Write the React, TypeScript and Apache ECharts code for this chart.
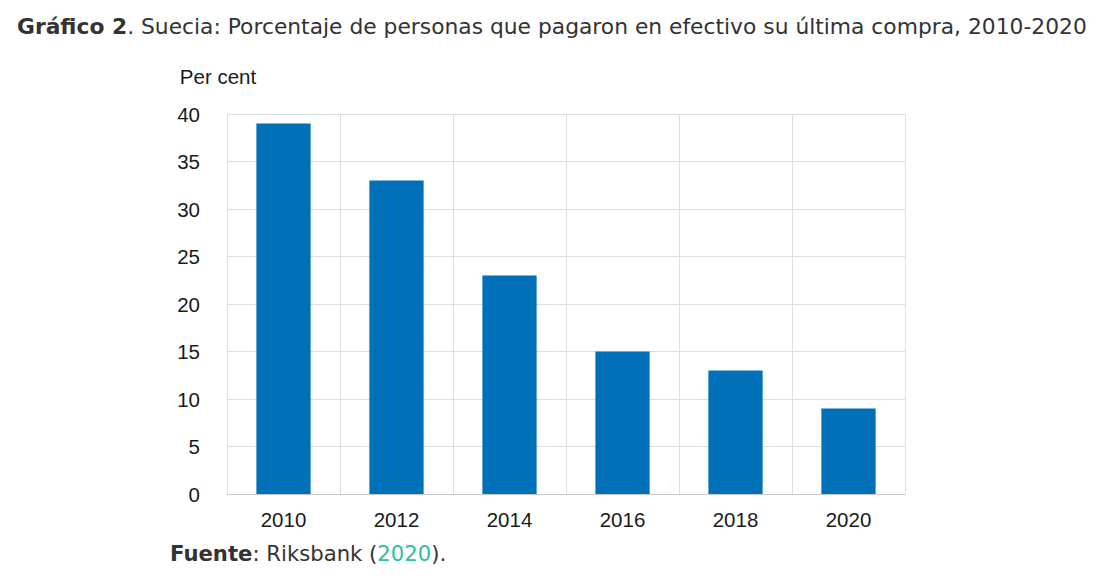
import React, { useEffect, useRef } from "react";
import * as echarts from "echarts";

const categories = ["2010", "2012", "2014", "2016", "2018", "2020"];
const cashShare = [39, 33, 23, 15, 13, 9];
const titleBold = "Gráfico 2";
const titleRest = ". Suecia: Porcentaje de personas que pagaron en efectivo su última compra, 2010-2020";
const axisName = "Per cent";

const FONT_T = "DejaVu Sans";
const SIZE_T = 21.8;
const SIZE_F = 21.2;

export default function App() {
  const ref = useRef<HTMLDivElement>(null);
  useEffect(() => {
    document.body.style.margin = "0";
    const chart = echarts.init(ref.current!, null, { renderer: "svg" });
    chart.setOption({
      animation: false,
      backgroundColor: "#ffffff",
      title: [
        {
          left: 17,
          top: 15,
          padding: 0,
          text: `{b|${titleBold}}{n|${titleRest}}`,
          textStyle: {
            rich: {
              b: { fontFamily: FONT_T, fontWeight: "bold", fontSize: SIZE_T, color: "#333333" },
              n: { fontFamily: FONT_T, fontWeight: "normal", fontSize: SIZE_T, color: "#333333" },
            },
          },
        },
        {
          left: 170,
          top: 543,
          padding: 0,
          text: "{b|Fuente}{n|: Riksbank (}{t|2020}{n|).}",
          textStyle: {
            rich: {
              b: { fontFamily: FONT_T, fontWeight: "bold", fontSize: SIZE_F, color: "#333333" },
              n: { fontFamily: FONT_T, fontWeight: "normal", fontSize: SIZE_F, color: "#333333" },
              t: { fontFamily: FONT_T, fontWeight: "normal", fontSize: SIZE_F, color: "#2fbf9a" },
            },
          },
        },
      ],
      grid: { left: 227, right: 197, top: 114, bottom: 84 },
      xAxis: {
        type: "category",
        data: categories,
        boundaryGap: true,
        axisTick: { show: false },
        axisLine: { show: true, lineStyle: { color: "#c8c8c8", width: 1 } },
        axisLabel: { margin: 15, fontFamily: "Liberation Sans", fontSize: 20.5, color: "#1a1a1a" },
        splitLine: { show: true, lineStyle: { color: "#dedede", width: 1 } },
      },
      yAxis: {
        type: "value",
        min: 0,
        max: 40,
        interval: 5,
        name: axisName,
        nameLocation: "end",
        nameGap: 27,
        nameTextStyle: {
          fontFamily: "Liberation Sans",
          fontSize: 20.5,
          color: "#1a1a1a",
          align: "center",
          padding: [0, 18, 0, 0],
        },
        axisLine: { show: true, lineStyle: { color: "#dedede" } },
        axisTick: { show: false },
        axisLabel: { margin: 27, fontFamily: "Liberation Sans", fontSize: 20.5, color: "#1a1a1a" },
        splitLine: { show: true, lineStyle: { color: "#dedede", width: 1 } },
      },
      series: [
        {
          type: "bar",
          data: cashShare,
          barWidth: "48%",
          itemStyle: { color: "#0070b8" },
        },
      ],
    });
    return () => chart.dispose();
  }, []);
  return <div ref={ref} style={{ width: 1102, height: 578 }} />;
}
